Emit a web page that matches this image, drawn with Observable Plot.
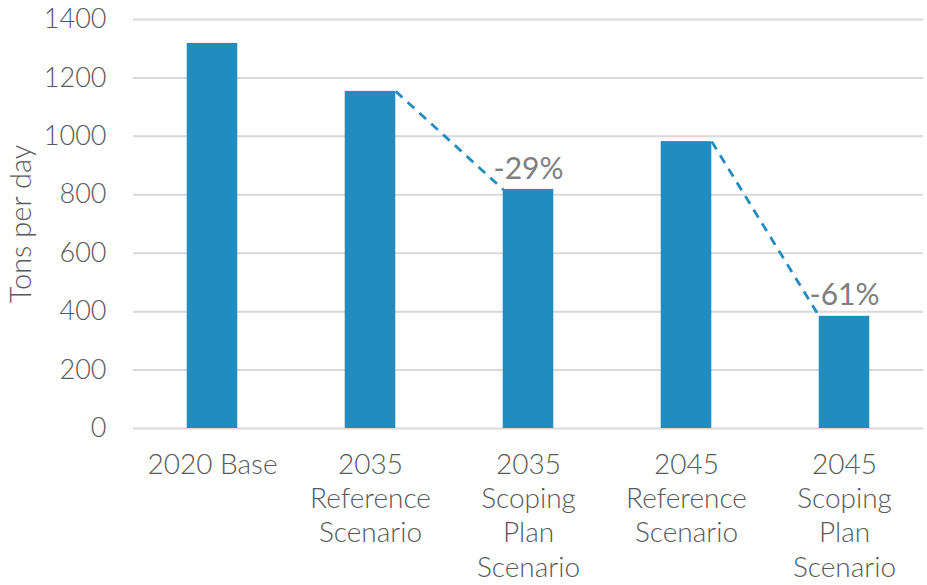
<!DOCTYPE html>
<html>
<head>
<meta charset="utf-8">
<script src="https://cdn.jsdelivr.net/npm/d3@7"></script>
<script src="https://cdn.jsdelivr.net/npm/@observablehq/plot@0.6"></script>
<style>
  html, body { margin: 0; padding: 0; background: #fff; }
  svg { display: block; }
</style>
</head>
<body>
<div id="chart"></div>
<script>
const categories = ["2020 Base", "2035\nReference\nScenario", "2035\nScoping\nPlan\nScenario", "2045\nReference\nScenario", "2045\nScoping\nPlan\nScenario"];
const values = [1318, 1154, 818, 982, 384];
const yTicks = [0, 200, 400, 600, 800, 1000, 1200, 1400];
const reductions = [{from: 1, to: 2, label: "-29%"}, {from: 3, to: 4, label: "-61%"}];
const yLabel = "Tons per day";

const blue = "#228bbf";
const half = 0.16;
const bars = categories.map((c, i) => ({i, c, v: values[i]}));
const links = reductions.map(r => ({x1: r.from + half, y1: values[r.from], x2: r.to - half, y2: values[r.to], label: r.label, x: r.to, y: values[r.to]}));

const chart = Plot.plot({
  width: 927,
  height: 585,
  marginLeft: 133,
  marginRight: 4,
  marginTop: 19,
  marginBottom: 157,
  style: {fontFamily: "Lato, sans-serif", color: "#595959", background: "#fff"},
  x: {domain: [-0.5, 4.5]},
  y: {domain: [0, 1400]},
  marks: [
    Plot.gridY(yTicks, {stroke: "#d9d9d9", strokeOpacity: 1, strokeWidth: 2}),
    Plot.rectY(bars, {x1: d => d.i - half, x2: d => d.i + half, y: "v", fill: blue}),
    Plot.link(links, {x1: "x1", y1: "y1", x2: "x2", y2: "y2", stroke: blue, strokeWidth: 2.8, strokeDasharray: "9,7"}),
    Plot.text(links, {x: "x", y: "y", text: "label", lineAnchor: "bottom", dy: -11, fontSize: 30, fontWeight: 400, fill: "#7f7f7f"}),
    Plot.axisY({ticks: yTicks, tickFormat: d => String(d), tickSize: 0, tickPadding: 27, fontSize: 27, fontWeight: 300, label: null, fill: "#595959"}),
    Plot.axisX({ticks: [0, 1, 2, 3, 4], tickFormat: i => categories[i], tickSize: 0, tickPadding: 21, fontSize: 28, fontWeight: 300, lineHeight: 1.225, label: null, fill: "#595959"}),
    Plot.text([yLabel], {frameAnchor: "left", textAnchor: "middle", rotate: -90, dx: -112, fontSize: 29, fontWeight: 300, fill: "#595959"})
  ]
});
document.getElementById("chart").appendChild(chart);
</script>
</body>
</html>
